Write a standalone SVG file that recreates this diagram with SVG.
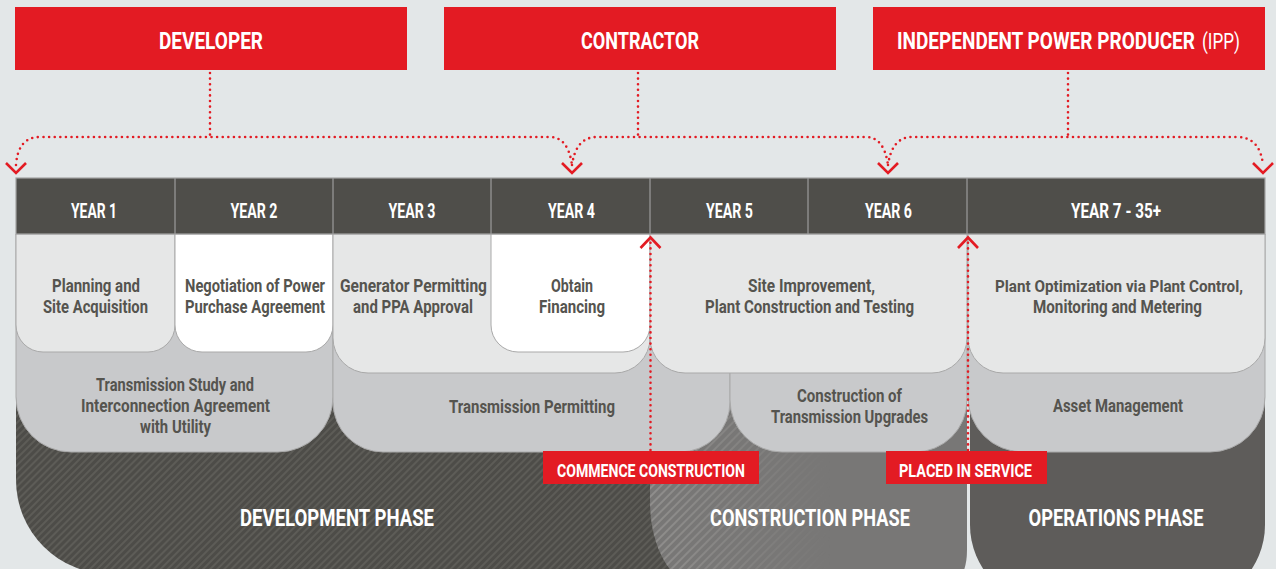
<svg xmlns="http://www.w3.org/2000/svg" width="1276" height="569" viewBox="0 0 1276 569">
<style>
text{font-family:"Roboto","Liberation Sans",sans-serif;font-weight:700;text-anchor:middle}
.hdr{fill:#e31b23}
.hdrt{fill:#fff;font-size:23px}
.yr{fill:#fff;font-size:20px}
.lbl{fill:#55544f;font-size:18px}
.ph{fill:#fff;font-size:23px}
.rt{fill:#fff;font-size:19px}
.r2a{fill:#e6e7e7;stroke:#a9a9a9;stroke-width:1}
.r2b{fill:#ffffff;stroke:#a9a9a9;stroke-width:1}
.r3{fill:#c8c9cb;stroke:#a9a9a9;stroke-width:1}
.dot{fill:none;stroke:#e31b23;stroke-width:2.6;stroke-dasharray:0 5.6;stroke-linecap:round}
.chev{fill:none;stroke:#e31b23;stroke-width:2.6}
.div{stroke:#9c9c9c;stroke-width:1.2}
</style>
<defs>
<pattern id="hatchDark" width="5" height="5" patternUnits="userSpaceOnUse" patternTransform="rotate(45)">
<rect width="5" height="5" fill="#4d4c48"/>
<line x1="1" y1="0" x2="1" y2="5" stroke="#65645f" stroke-width="1.3"/>
</pattern>
<pattern id="hatchLight" width="6" height="6" patternUnits="userSpaceOnUse" patternTransform="rotate(45)">
<line x1="1" y1="0" x2="1" y2="6" stroke="#9a9997" stroke-width="1.4"/>
</pattern>
<linearGradient id="fade" x1="650" y1="0" x2="830" y2="0" gradientUnits="userSpaceOnUse">
<stop offset="0" stop-color="#fff"/>
<stop offset="1" stop-color="#000"/>
</linearGradient>
<mask id="fadeMask" maskUnits="userSpaceOnUse" x="640" y="280" width="340" height="320">
<rect x="640" y="280" width="340" height="320" fill="url(#fade)"/>
</mask>
</defs>
<rect width="1276" height="569" fill="#e3e7e8"/>

<!-- phases -->
<g id="development-phase">
<path d="M16,300 V480 A94,94 0 0 0 110,574 H740 V300 Z" fill="url(#hatchDark)"/>
<text class="ph" x="337" y="526" textLength="194" lengthAdjust="spacingAndGlyphs">DEVELOPMENT PHASE</text>
</g>
<g id="construction-phase">
<path d="M650,300 V500 C650,560 680,600 740,600 H900 C940,600 967,590 967,550 V300 Z" fill="#787776"/>
<path d="M650,300 V500 C650,560 680,600 740,600 H900 C940,600 967,590 967,550 V300 Z" fill="url(#hatchLight)" mask="url(#fadeMask)"/>
<text class="ph" x="810" y="526" textLength="200" lengthAdjust="spacingAndGlyphs">CONSTRUCTION PHASE</text>
</g>
<g id="operations-phase">
<path d="M970,300 V525 A80,80 0 0 0 1050,605 H1185 A80,80 0 0 0 1265,525 V300 Z" fill="#5e5c5a"/>
<text class="ph" x="1116" y="526" textLength="175" lengthAdjust="spacingAndGlyphs">OPERATIONS PHASE</text>
</g>

<!-- row 3 -->
<g id="transmission-study">
<path class="r3" d="M16,234 H333 V397 A55,55 0 0 1 278,452 H71 A55,55 0 0 1 16,397 Z"/>
<text class="lbl" x="175" y="391" textLength="158" lengthAdjust="spacingAndGlyphs">Transmission Study and</text>
<text class="lbl" x="175.5" y="412" textLength="189" lengthAdjust="spacingAndGlyphs">Interconnection Agreement</text>
<text class="lbl" x="175.5" y="433" textLength="71" lengthAdjust="spacingAndGlyphs">with Utility</text>
</g>
<g id="transmission-permitting">
<path class="r3" d="M333,234 H730 V402 A50,50 0 0 1 680,452 H383 A50,50 0 0 1 333,402 Z"/>
<text class="lbl" x="532" y="413" textLength="166" lengthAdjust="spacingAndGlyphs">Transmission Permitting</text>
</g>
<g id="construction-transmission-upgrades">
<path class="r3" d="M730,234 H967 V400 A52,52 0 0 1 915,452 H782 A52,52 0 0 1 730,400 Z"/>
<text class="lbl" x="849.5" y="402" textLength="105" lengthAdjust="spacingAndGlyphs">Construction of</text>
<text class="lbl" x="849.5" y="423" textLength="157" lengthAdjust="spacingAndGlyphs">Transmission Upgrades</text>
</g>
<g id="asset-management">
<path class="r3" d="M968,234 H1265 V397 A55,55 0 0 1 1210,452 H1023 A55,55 0 0 1 968,397 Z"/>
<text class="lbl" x="1118" y="412" textLength="130" lengthAdjust="spacingAndGlyphs">Asset Management</text>
</g>

<!-- row 2 -->
<g id="planning">
<path class="r2a" d="M16,234 H175 V325 A27,27 0 0 1 148,352 H43 A27,27 0 0 1 16,325 Z"/>
<text class="lbl" x="96" y="292" textLength="88" lengthAdjust="spacingAndGlyphs">Planning and</text>
<text class="lbl" x="95.5" y="313" textLength="105" lengthAdjust="spacingAndGlyphs">Site Acquisition</text>
</g>
<g id="negotiation-ppa">
<path class="r2b" d="M175,234 H333 V325 A27,27 0 0 1 306,352 H202 A27,27 0 0 1 175,325 Z"/>
<text class="lbl" x="255" y="292" textLength="140" lengthAdjust="spacingAndGlyphs">Negotiation of Power</text>
<text class="lbl" x="255" y="313" textLength="140" lengthAdjust="spacingAndGlyphs">Purchase Agreement</text>
</g>
<g id="generator-permitting">
<path class="r2a" d="M333,234 H650 V338 A35,35 0 0 1 615,373 H368 A35,35 0 0 1 333,338 Z"/>
<text class="lbl" x="413.5" y="292" textLength="147" lengthAdjust="spacingAndGlyphs">Generator Permitting</text>
<text class="lbl" x="413" y="313" textLength="120" lengthAdjust="spacingAndGlyphs">and PPA Approval</text>
</g>
<g id="obtain-financing">
<path class="r2b" d="M491,234 H650 V325 A27,27 0 0 1 623,352 H518 A27,27 0 0 1 491,325 Z"/>
<text class="lbl" x="572" y="292" textLength="42" lengthAdjust="spacingAndGlyphs">Obtain</text>
<text class="lbl" x="572" y="313" textLength="66" lengthAdjust="spacingAndGlyphs">Financing</text>
</g>
<g id="site-improvement">
<path class="r2a" d="M650,234 H967 V338 A35,35 0 0 1 932,373 H685 A35,35 0 0 1 650,338 Z"/>
<text class="lbl" x="811.5" y="292" textLength="127" lengthAdjust="spacingAndGlyphs">Site Improvement,</text>
<text class="lbl" x="809.5" y="313" textLength="209" lengthAdjust="spacingAndGlyphs">Plant Construction and Testing</text>
</g>
<g id="plant-optimization">
<path class="r2a" d="M968,234 H1265 V338 A35,35 0 0 1 1230,373 H1003 A35,35 0 0 1 968,338 Z"/>
<text class="lbl" x="1119" y="292" textLength="248" lengthAdjust="spacingAndGlyphs" style="font-size:17px">Plant Optimization via Plant Control,</text>
<text class="lbl" x="1117.5" y="313" textLength="169" lengthAdjust="spacingAndGlyphs">Monitoring and Metering</text>
</g>

<!-- year bar -->
<g id="year-bar">
<rect x="16" y="178" width="1249" height="56" fill="#4f4e4a" stroke="#a3a3a3" stroke-width="1.2"/>
<line class="div" x1="175" y1="178" x2="175" y2="234"/>
<line class="div" x1="333" y1="178" x2="333" y2="234"/>
<line class="div" x1="491" y1="178" x2="491" y2="234"/>
<line class="div" x1="650" y1="178" x2="650" y2="234"/>
<line class="div" x1="808" y1="178" x2="808" y2="234"/>
<line class="div" x1="967" y1="178" x2="967" y2="234"/>
<text class="yr" x="94" y="218" textLength="46" lengthAdjust="spacingAndGlyphs">YEAR 1</text>
<text class="yr" x="254" y="218" textLength="47" lengthAdjust="spacingAndGlyphs">YEAR 2</text>
<text class="yr" x="412" y="218" textLength="47" lengthAdjust="spacingAndGlyphs">YEAR 3</text>
<text class="yr" x="571.5" y="218" textLength="47" lengthAdjust="spacingAndGlyphs">YEAR 4</text>
<text class="yr" x="729.5" y="218" textLength="47" lengthAdjust="spacingAndGlyphs">YEAR 5</text>
<text class="yr" x="888.5" y="218" textLength="47" lengthAdjust="spacingAndGlyphs">YEAR 6</text>
<text class="yr" x="1116" y="218" textLength="90" lengthAdjust="spacingAndGlyphs">YEAR 7 - 35+</text>
</g>

<!-- top headers -->
<g id="developer">
<rect class="hdr" x="15" y="7" width="392" height="63"/>
<text class="hdrt" x="211" y="49" textLength="104" lengthAdjust="spacingAndGlyphs">DEVELOPER</text>
</g>
<g id="contractor">
<rect class="hdr" x="444" y="7" width="392" height="63"/>
<text class="hdrt" x="640" y="49" textLength="118" lengthAdjust="spacingAndGlyphs">CONTRACTOR</text>
</g>
<g id="ipp">
<rect class="hdr" x="873" y="7" width="392" height="63"/>
<text class="hdrt" transform="translate(897,49) scale(1,1.26)" x="0" y="0" textLength="298" lengthAdjust="spacingAndGlyphs" style="text-anchor:start;font-size:19px">INDEPENDENT POWER PRODUCER</text>
<text class="hdrt" transform="translate(1202,49) scale(1,1.26)" x="0" y="0" textLength="38" lengthAdjust="spacingAndGlyphs" style="text-anchor:start;font-weight:400;font-size:18px">(IPP)</text>
</g>

<!-- connectors -->
<g id="connectors">
<path class="dot" d="M210,73 V137"/>
<path class="dot" d="M638,73 V137"/>
<path class="dot" d="M1068,73 V137"/>
<path class="dot" d="M16,165 Q18,137 40,137 H550 Q568,137 572,165"/>
<path class="dot" d="M572,165 Q576,137 597,137 H866 Q884,137 888,165"/>
<path class="dot" d="M888,165 Q892,137 912,137 H1237 Q1260,137 1263,165"/>
<polyline class="chev" points="6,163 16,173 26,163"/>
<polyline class="chev" points="562,163 572,173 582,163"/>
<polyline class="chev" points="878,163 888,173 898,163"/>
<polyline class="chev" points="1253,163 1263,173 1273,163"/>
<path class="dot" d="M650.5,450 V242"/>
<path class="dot" d="M968,450 V242"/>
<polyline class="chev" points="640.5,248 650.5,237.5 660.5,248"/>
<polyline class="chev" points="958,248 968,237.5 978,248"/>
</g>

<!-- milestone labels -->
<g id="commence-construction">
<rect class="hdr" x="543" y="451" width="216" height="33"/>
<text class="rt" x="651" y="477" textLength="188" lengthAdjust="spacingAndGlyphs">COMMENCE CONSTRUCTION</text>
</g>
<g id="placed-in-service">
<rect class="hdr" x="886" y="451" width="161" height="33"/>
<text class="rt" x="965.5" y="477" textLength="133" lengthAdjust="spacingAndGlyphs">PLACED IN SERVICE</text>
</g>
</svg>
